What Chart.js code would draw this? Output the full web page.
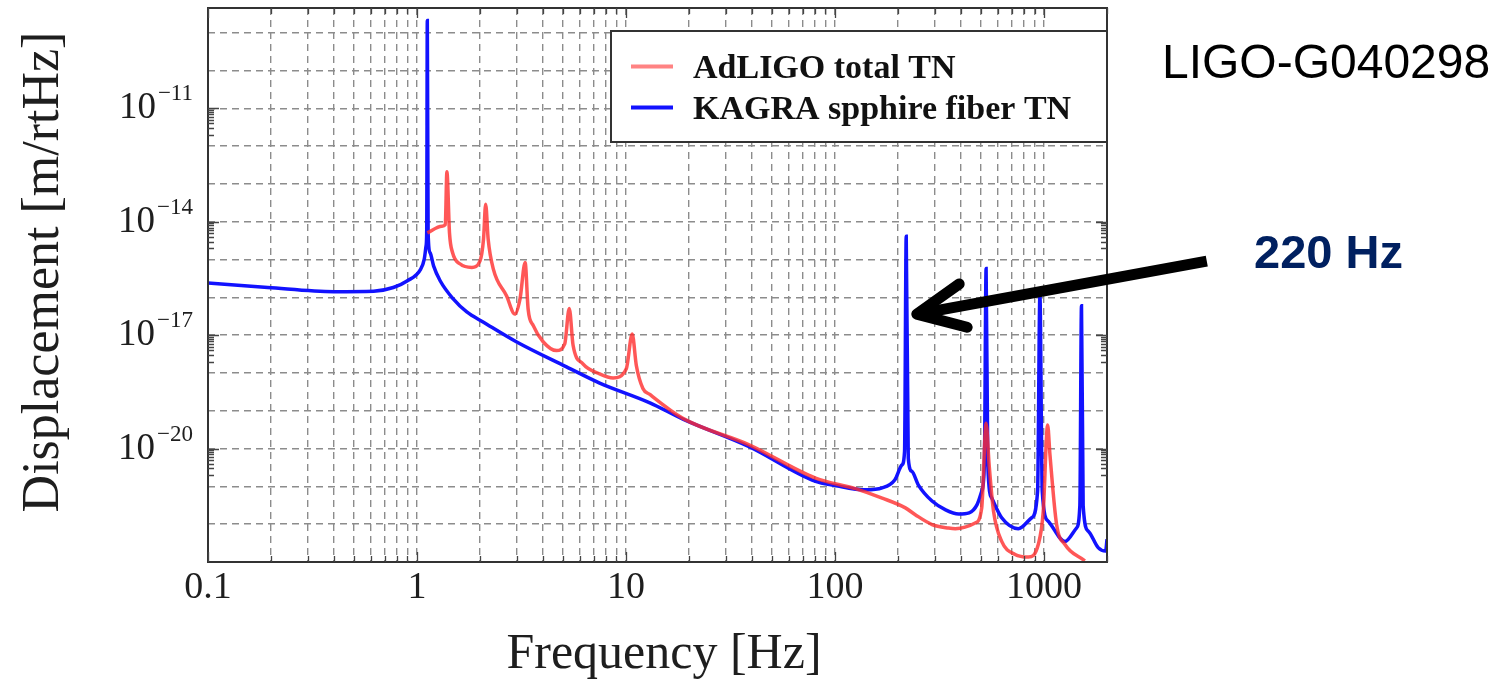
<!DOCTYPE html>
<html><head><meta charset="utf-8">
<script src="https://cdn.jsdelivr.net/npm/chart.js@4.4.1/dist/chart.umd.min.js"></script>
<style>html,body{margin:0;padding:0;background:#fff;} canvas{display:block}</style>
</head><body><canvas id="c" width="1496" height="679"></canvas>
<script>
// ---- data ----
const seriesNames = ['AdLIGO total TN', 'KAGRA spphire fiber TN'];

const redFreq = [1.12, 1.315, 1.365, 1.39, 1.43, 1.48, 1.61, 1.83, 2.0, 2.08, 2.13, 2.19, 2.32, 2.68, 2.94, 3.11, 3.29, 3.40, 3.6, 4.02, 4.65, 5.09, 5.35, 5.58, 6.22, 7.48, 8.67, 10.03, 10.7, 11.2, 12.04, 13, 18.7, 38.8, 80.7, 125, 168, 217, 242, 291, 349, 376, 468, 503, 528, 546, 573, 627, 727, 841, 938, 991, 1040, 1067, 1148, 1259, 1567];
const redDisp = [5.1e-15, 7.6e-15, 8.3e-15, 2.1e-13, 5.1e-15, 1.51e-15, 7.6e-16, 6.2e-16, 9.1e-16, 3.4e-15, 2.9e-14, 3.4e-15, 5.5e-16, 1.1e-16, 3.6e-17, 9.1e-17, 8.3e-16, 4.9e-17, 1.78e-17, 6.6e-18, 3.9e-18, 5.9e-18, 5.1e-17, 5.4e-18, 1.74e-18, 9.5e-19, 7.4e-19, 1.29e-18, 1.07e-17, 1.58e-18, 3.9e-19, 2.7e-19, 6.3e-20, 1.26e-20, 1.66e-21, 8.7e-22, 4.9e-22, 2.7e-22, 1.78e-22, 9.8e-23, 7.9e-23, 7.6e-23, 1.07e-22, 2.7e-22, 4.7e-20, 3.7e-21, 2.2e-22, 3.5e-23, 1.58e-23, 1.35e-23, 2.9e-23, 2.2e-22, 4.2e-20, 6.8e-21, 9.8e-23, 2.9e-23, 1.07e-23];

const blueFreq = [0.1, 0.193, 0.4, 0.62, 0.77, 0.9, 1.04, 1.083, 1.105, 1.113, 1.12, 1.13, 1.155, 1.2, 1.29, 1.49, 1.73, 2.08, 3.0, 5.19, 7.48, 13, 18.7, 38.8, 80.7, 98.8, 140, 168, 193, 209, 215, 219, 224, 233, 250, 291, 338, 390, 438, 478, 503, 518, 528, 538, 562, 627, 753, 872, 931, 955, 980, 1047, 1259, 1429, 1483, 1510, 1538, 1626, 1814, 1970, 2000];
const blueDisp = [2.4e-16, 1.82e-16, 1.41e-16, 1.45e-16, 1.82e-16, 2.75e-16, 5.5e-16, 1.02e-15, 2.3e-15, 6.3e-15, 2.1e-9, 5.1e-15, 1.51e-15, 6.8e-16, 2.75e-16, 9.1e-17, 4.1e-17, 2.2e-17, 6.6e-18, 1.45e-18, 5.4e-19, 1.62e-19, 6.0e-20, 1.12e-20, 1.35e-21, 1.07e-21, 8.1e-22, 9.1e-22, 1.48e-21, 3.7e-21, 8.3e-21, 4.1e-15, 5.6e-21, 2.5e-21, 1.1e-21, 4.1e-22, 2.4e-22, 1.86e-22, 2.0e-22, 3.3e-22, 7.4e-22, 3.7e-21, 5.8e-16, 3.7e-21, 4.9e-22, 1.48e-22, 7.6e-23, 1.48e-22, 7.4e-22, 1.15e-16, 7.4e-22, 1.2e-22, 3.5e-23, 7.9e-23, 3.1e-22, 6.0e-17, 3.1e-22, 6.6e-23, 2.4e-23, 1.95e-23, 4.0e-23];

const xTickValues = [0.1, 1, 10, 100, 1000];
const xTickLabels = ['0.1', '1', '10', '100', '1000'];
const yTickValues = [1e-11, 1e-14, 1e-17, 1e-20];
const yTickBase = '10';
const yTickExps = ['\u221211', '\u221214', '\u221217', '\u221220'];
const xTitle = 'Frequency [Hz]';
const yTitle = 'Displacement [m/rtHz]';
const docId = 'LIGO-G040298';
const noteText = '220 Hz';
const arrowTip = { x: 246, y: 3.6e-17 };

// ---- grid positions (every 1..9 per decade on x, every decade on y) ----
const xGrid = [];
for (let e = -1; e <= 3; e++) for (let k = 1; k <= 9; k++) { const v = +(k * Math.pow(10, e)).toPrecision(6); if (v <= 2000) xGrid.push(v); }
const yGrid = [];
for (let e = -23; e <= -9; e++) yGrid.push(Math.pow(10, e));

const SERIF = '"Liberation Serif", "Times New Roman", serif';
const SANS = '"Liberation Sans", Arial, sans-serif';
const RED = 'rgba(255,45,45,0.8)';
const BLUE = '#1212ff';
const legendColors = ['rgba(255,90,90,0.75)', BLUE];

const decor = {
  id: 'decor',
  afterDraw(chart) {
    const { ctx, chartArea: a, scales } = chart;
    const xs = scales.x, ys = scales.y;
    ctx.save();
    // frame
    ctx.strokeStyle = '#333';
    ctx.lineWidth = 2;
    ctx.strokeRect(a.left, a.top, a.right - a.left, a.bottom - a.top);
    // inward x ticks
    ctx.lineWidth = 1.3;
    ctx.strokeStyle = '#444';
    xGrid.forEach(v => {
      const px = Math.round(xs.getPixelForValue(v)) + 0.5;
      const major = xTickValues.some(t => Math.abs(t - v) / t < 1e-6);
      const L = major ? 10 : 6;
      ctx.beginPath();
      ctx.moveTo(px, a.bottom); ctx.lineTo(px, a.bottom - L);
      ctx.moveTo(px, a.top); ctx.lineTo(px, a.top + L);
      ctx.stroke();
    });
    // inward y ticks at labelled decades
    yTickValues.forEach(v => {
      for (let k = 2; k <= 10; k++) {
        const val = k === 10 ? v : k * v / 10;
        const py = Math.round(ys.getPixelForValue(val)) + 0.5;
        const L = k === 10 ? 11 : 6;
        ctx.beginPath();
        ctx.moveTo(a.left, py); ctx.lineTo(a.left + L, py);
        ctx.moveTo(a.right, py); ctx.lineTo(a.right - L, py);
        ctx.stroke();
      }
    });
    // y tick labels with superscript
    ctx.fillStyle = '#1e1e1e';
    ctx.textBaseline = 'alphabetic';
    yTickValues.forEach((v, i) => {
      const py = ys.getPixelForValue(v);
      ctx.font = '23px ' + SERIF;
      const supW = ctx.measureText(yTickExps[i]).width;
      const right = a.left - 15;
      ctx.textAlign = 'left';
      ctx.fillText(yTickExps[i], right - supW, py - 8);
      ctx.font = '37px ' + SERIF;
      ctx.textAlign = 'right';
      ctx.fillText(yTickBase, right - supW - 2, py + 10);
    });
    // axis titles
    ctx.fillStyle = '#1e1e1e';
    ctx.font = '50px ' + SERIF;
    ctx.textAlign = 'center';
    ctx.fillText(xTitle, 664, 668);
    ctx.save();
    ctx.translate(58, 272);
    ctx.rotate(-Math.PI / 2);
    ctx.font = '52px ' + SERIF;
    ctx.fillText(yTitle, 0, 0);
    ctx.restore();
    // legend box
    const lx = 611, ly = 31, lw = a.right - 611, lh = 111;
    ctx.fillStyle = '#fff';
    ctx.fillRect(lx, ly, lw, lh);
    ctx.strokeStyle = '#333';
    ctx.lineWidth = 2;
    ctx.strokeRect(lx, ly, lw, lh);
    const ds = chart.data.datasets;
    [66.5, 107.5].forEach((yy, i) => {
      ctx.strokeStyle = legendColors[i];
      ctx.lineWidth = 4;
      ctx.beginPath(); ctx.moveTo(631, yy); ctx.lineTo(673, yy); ctx.stroke();
      ctx.fillStyle = '#111';
      ctx.font = 'bold 34px ' + SERIF;
      ctx.textAlign = 'left';
      ctx.fillText(ds[i].label, 693, yy + 11);
    });
    // document id
    ctx.fillStyle = '#000';
    ctx.font = '48px ' + SANS;
    ctx.textAlign = 'left';
    ctx.fillText(docId, 1162, 78);
    // note
    ctx.fillStyle = '#002060';
    ctx.font = 'bold 47px ' + SANS;
    ctx.fillText(noteText, 1254, 268);
    // arrow anchored to data point
    const tx = xs.getPixelForValue(arrowTip.x), ty = ys.getPixelForValue(arrowTip.y);
    const ex = tx + 290, ey = ty - 53;
    const th = Math.atan2(ey - ty, ex - tx);
    ctx.strokeStyle = '#000';
    ctx.lineWidth = 11;
    ctx.lineCap = 'butt';
    ctx.beginPath(); ctx.moveTo(ex, ey); ctx.lineTo(tx + 6 * Math.cos(th), ty + 6 * Math.sin(th)); ctx.stroke();
    ctx.lineCap = 'round'; ctx.lineJoin = 'round';
    const bl = 52, ba = 25 * Math.PI / 180;
    ctx.beginPath();
    ctx.moveTo(tx + bl * Math.cos(th - ba), ty + bl * Math.sin(th - ba));
    ctx.lineTo(tx, ty);
    ctx.lineTo(tx + bl * Math.cos(th + ba), ty + bl * Math.sin(th + ba));
    ctx.stroke();
    ctx.restore();
  }
};

const gridOpts = { color: '#8c8c8c', lineWidth: 1.4, drawTicks: false };
new Chart(document.getElementById('c').getContext('2d'), {
  type: 'line',
  data: {
    datasets: [
      { label: seriesNames[0], data: redFreq.map((f, i) => ({ x: f, y: redDisp[i] })), borderColor: RED, borderWidth: 3.5, pointRadius: 0, cubicInterpolationMode: 'monotone', fill: false },
      { label: seriesNames[1], data: blueFreq.map((f, i) => ({ x: f, y: blueDisp[i] })), borderColor: BLUE, borderWidth: 3.5, pointRadius: 0, cubicInterpolationMode: 'monotone', fill: false }
    ]
  },
  options: {
    responsive: false,
    animation: false,
    layout: { padding: { top: 8, right: 389, left: 0, bottom: 0 } },
    plugins: { legend: { display: false }, tooltip: { enabled: false } },
    scales: {
      x: {
        type: 'logarithmic', min: 0.1, max: 2000, position: 'bottom',
        afterBuildTicks: s => { s.ticks = xGrid.map(v => ({ value: v })); },
        afterFit: s => { s.height = 117; },
        grid: gridOpts,
        border: { display: false, dash: [7, 5] },
        ticks: {
          autoSkip: false, maxRotation: 0, minRotation: 0, padding: 7,
          font: { family: SERIF, size: 38, lineHeight: 1 }, color: '#1e1e1e',
          callback: (v) => {
            const i = xTickValues.findIndex(t => Math.abs(t - v) / t < 1e-6);
            return i >= 0 ? xTickLabels[i] : '';
          }
        }
      },
      y: {
        type: 'logarithmic', min: 1e-23, max: 4.5e-9, position: 'left',
        afterBuildTicks: s => { s.ticks = yGrid.map(v => ({ value: v })); },
        afterFit: s => { s.width = 208; },
        grid: gridOpts,
        border: { display: false, dash: [7, 5] },
        ticks: { display: false }
      }
    }
  },
  plugins: [decor]
});
</script></body></html>
